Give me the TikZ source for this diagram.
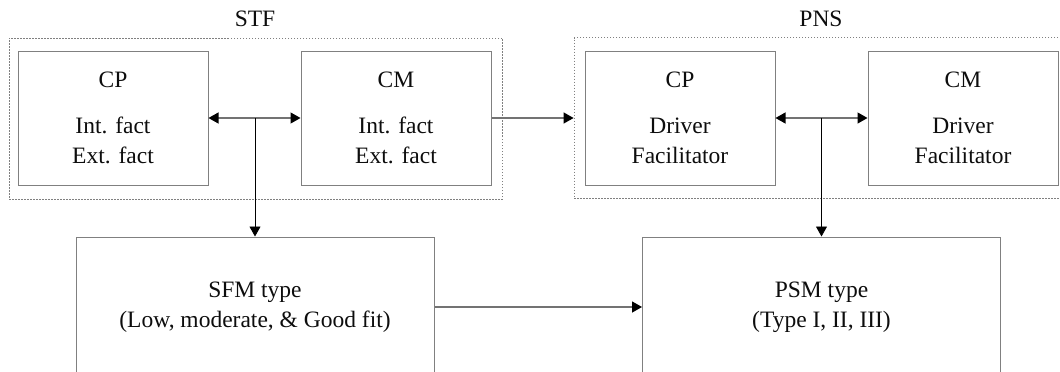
\documentclass[tikz,border=0pt]{standalone}
\usepackage{fontspec}
\setmainfont{Liberation Serif}
\usetikzlibrary{arrows.meta}
\begin{document}
\begin{tikzpicture}[x=1pt,y=-1pt,
  every node/.style={font=\fontsize{23.5}{30}\selectfont, text=black!95},
  box/.style={draw=black!50, line width=1pt, minimum width=190pt, minimum height=134pt, align=center, inner sep=0pt},
  bigbox/.style={draw=black!50, line width=1pt, minimum width=358pt, minimum height=140pt, align=center, inner sep=0pt},
  dotbox/.style={draw=black!50, line width=0.8pt, dash pattern=on 1.5pt off 1.5pt, minimum width=493pt, minimum height=161pt, inner sep=0pt},
  hconn/.style={draw=black!55, line width=1.3pt},
  vconn/.style={draw=black, line width=0.8pt},
  tip/.style={-{Triangle[length=10pt,width=11pt,color=black]}},
  dtip/.style={{Triangle[length=10pt,width=11pt,color=black]}-{Triangle[length=10pt,width=11pt,color=black]}}
]
\clip (0,0) rectangle (1060,372);
\useasboundingbox (0,0) rectangle (1060,372);

\node (stflabel) at (255,19) {STF};
\node (pnslabel) at (821,19) {PNS};

\node[dotbox] (stf) at (255.5,118.5) {};
\node[dotbox] (pns) at (820.5,118) {};

\node[box] (cp1) at (113,118) {CP\\[16pt]Int. fact\\Ext. fact};
\node[box] (cm1) at (396,118) {CM\\[16pt]Int. fact\\Ext. fact};
\node[box] (cp2) at (680,118) {CP\\[16pt]Driver\\Facilitator};
\node[box] (cm2) at (963,118) {CM\\[16pt]Driver\\Facilitator};

\node[bigbox] (sfm) at (255,307) {SFM type\\(Low, moderate, \& Good fit)};
\node[bigbox] (psm) at (821.5,307) {PSM type\\(Type I, II, III)};

\coordinate (j1) at (255,118);
\coordinate (j2) at (821.5,118);

\draw[hconn,dtip] (cp1.east) -- (cm1.west);
\draw[hconn,dtip] (cp2.east) -- (cm2.west);
\draw[vconn,tip] (j1) -- (sfm.north);
\draw[vconn,tip] (j2) -- (psm.north);
\draw[hconn,tip] (cm1.east) -- (pns.west);
\draw[hconn,tip] (sfm.east) -- (psm.west);
\end{tikzpicture}
\end{document}
